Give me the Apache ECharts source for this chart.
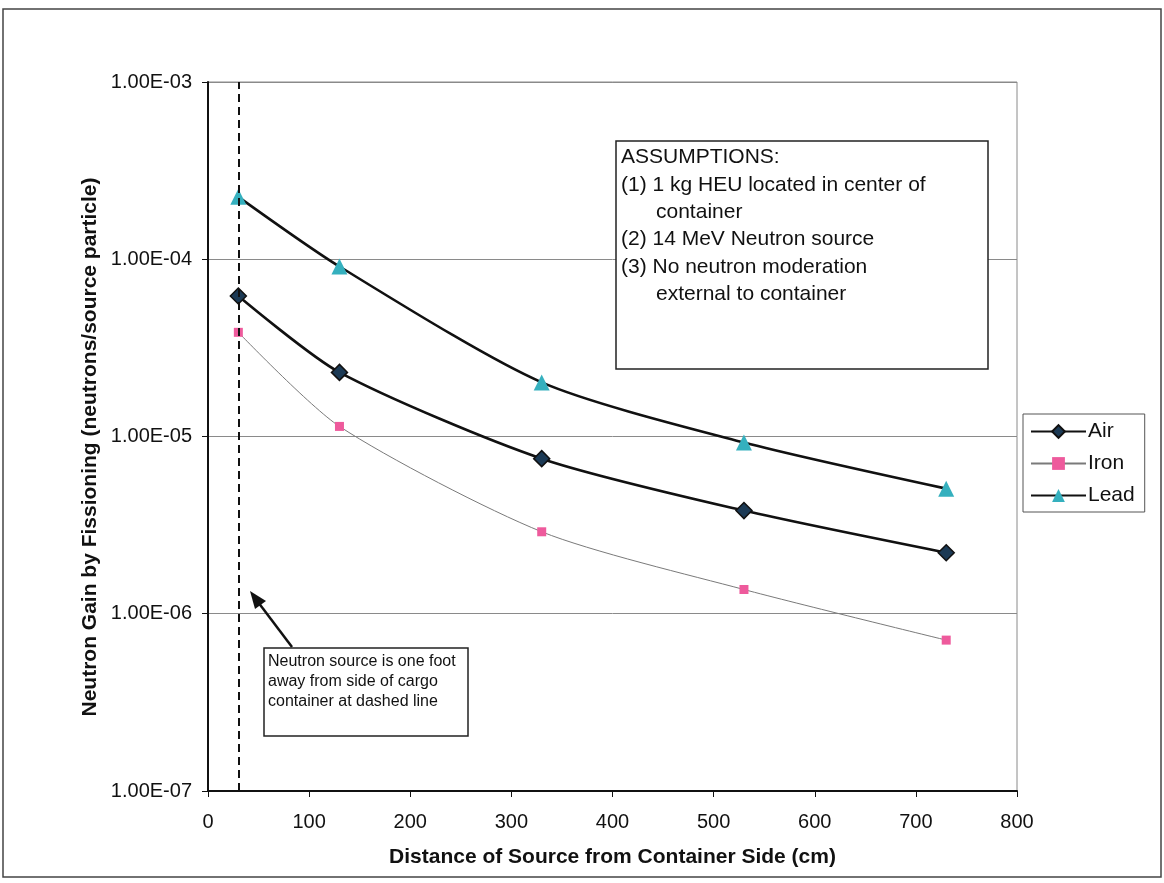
<!DOCTYPE html>
<html><head><meta charset="utf-8">
<script src="https://cdn.jsdelivr.net/npm/echarts@6/dist/echarts.min.js"></script>
<style>html,body{margin:0;padding:0;background:#fff;}#c{width:1164px;height:883px;}</style>
</head><body><div id="c"></div>
<script>
const distances = [30, 130, 330, 530, 730];
const airValues = [6.2e-5, 2.3e-5, 7.5e-6, 3.82e-6, 2.21e-6];
const ironValues = [3.87e-5, 1.14e-5, 2.9e-6, 1.37e-6, 7.1e-7];
const leadValues = [2.25e-4, 9.1e-5, 2.02e-5, 9.25e-6, 5.08e-6];
const sourceLineX = 30;
const xTicks = [0, 100, 200, 300, 400, 500, 600, 700, 800];

const font = '"Liberation Sans", Arial, sans-serif';
function pair(xs, ys){ return xs.map((x,i)=>[x, ys[i]]); }
function fmtE(v){
  const e = Math.round(Math.log10(v));
  const m = v / Math.pow(10, e);
  const sign = e < 0 ? '-' : '+';
  const a = Math.abs(e);
  return m.toFixed(2) + 'E' + sign + (a < 10 ? '0' + a : a);
}

const chart = echarts.init(document.getElementById('c'), null, {renderer:'canvas'});
chart.setOption({
  animation: false,
  backgroundColor: '#fff',
  textStyle: {fontFamily: font},
  grid: {left: 208, right: 147, top: 82, bottom: 92, show: true, borderColor: '#8a8a8a', borderWidth: 1, backgroundColor: 'transparent'},
  xAxis: {
    type: 'value', min: 0, max: 800, interval: 100,
    name: 'Distance of Source from Container Side (cm)', nameLocation: 'middle', nameGap: 56,
    nameTextStyle: {fontFamily: font, fontSize: 21, fontWeight: 'bold', color: '#111'},
    axisLine: {show: true, onZero: false, lineStyle: {color: '#111', width: 2}},
    axisTick: {show: true, inside: false, length: 6, lineStyle: {color: '#111'}},
    axisLabel: {fontFamily: font, fontSize: 20, color: '#111', margin: 21,
      customValues: xTicks},
    splitLine: {show: false}
  },
  yAxis: {
    type: 'log', logBase: 10, min: 1e-7, max: 1e-3,
    axisLine: {show: true, lineStyle: {color: '#111', width: 2}},
    axisTick: {show: true, inside: false, length: 6, lineStyle: {color: '#111'}},
    axisLabel: {fontFamily: font, fontSize: 20, color: '#111', margin: 16, formatter: fmtE},
    splitLine: {show: true, lineStyle: {color: '#8a8a8a', width: 1}},
    minorTick: {show: false}
  },
  legend: {
    orient: 'vertical', left: 1023, top: 414,
    itemWidth: 55, itemHeight: 16, itemGap: 11,
    padding: [7, 10, 6, 7],
    borderColor: '#555', borderWidth: 1, backgroundColor: '#fff',
    textStyle: {fontFamily: font, fontSize: 21, color: '#111', padding: [0, 0, 0, -3]},
    data: ['Air', 'Iron', 'Lead']
  },
  series: [
    {name: 'Air', type: 'line', data: pair(distances, airValues), smooth: 0.25,
      symbol: 'diamond', symbolSize: 16,
      lineStyle: {color: '#111', width: 2.6},
      itemStyle: {color: '#1c3a55', borderColor: '#111', borderWidth: 1.5},
      markLine: {silent: true, symbol: 'none', label: {show: false},
        lineStyle: {color: '#111', type: [8, 5], width: 2},
        data: [{xAxis: sourceLineX}]}
    },
    {name: 'Iron', type: 'line', data: pair(distances, ironValues), smooth: 0.25,
      symbol: 'rect', symbolSize: 9,
      lineStyle: {color: '#7a7a7a', width: 1},
      itemStyle: {color: '#ee5a9c', borderColor: '#ee5a9c', borderWidth: 0}
    },
    {name: 'Lead', type: 'line', data: pair(distances, leadValues), smooth: 0.25,
      symbol: 'triangle', symbolSize: 16,
      lineStyle: {color: '#111', width: 2.6},
      itemStyle: {color: '#35b0be', borderColor: '#35b0be', borderWidth: 0}
    }
  ],
  graphic: [
    {type: 'rect', shape: {x: 3, y: 9, width: 1158, height: 868}, silent: true,
      style: {fill: 'none', stroke: '#444', lineWidth: 1.5}, z: -10},
    {type: 'text', x: 90, y: 447, rotation: Math.PI / 2, z: 5,
      style: {text: 'Neutron Gain by Fissioning (neutrons/source particle)',
        font: 'bold 21px ' + font, fill: '#111', align: 'center', verticalAlign: 'middle'}},
    {type: 'rect', shape: {x: 616, y: 141, width: 372, height: 228}, z: 10,
      style: {fill: '#fff', stroke: '#222', lineWidth: 1.5}},
    {type: 'text', left: 621, top: 144, z: 11,
      style: {text: 'ASSUMPTIONS:\n(1) 1 kg HEU located in center of\n      container\n(2) 14 MeV Neutron source\n(3) No neutron moderation\n      external to container',
        font: '21px ' + font, fill: '#111', lineHeight: 27.3}},
    {type: 'rect', shape: {x: 264, y: 648, width: 204, height: 88}, z: 10,
      style: {fill: '#fff', stroke: '#222', lineWidth: 1.5}},
    {type: 'text', left: 268, top: 652, z: 11,
      style: {text: 'Neutron source is one foot\naway from side of cargo\ncontainer at dashed line',
        font: '16px ' + font, fill: '#111', lineHeight: 20}},
    {type: 'line', shape: {x1: 292, y1: 647, x2: 258, y2: 602}, z: 10,
      style: {stroke: '#111', lineWidth: 2.5}},
    {type: 'polygon', shape: {points: [[250, 591], [266, 601], [255, 609]]}, z: 10,
      style: {fill: '#111'}}
  ]
});
</script></body></html>
